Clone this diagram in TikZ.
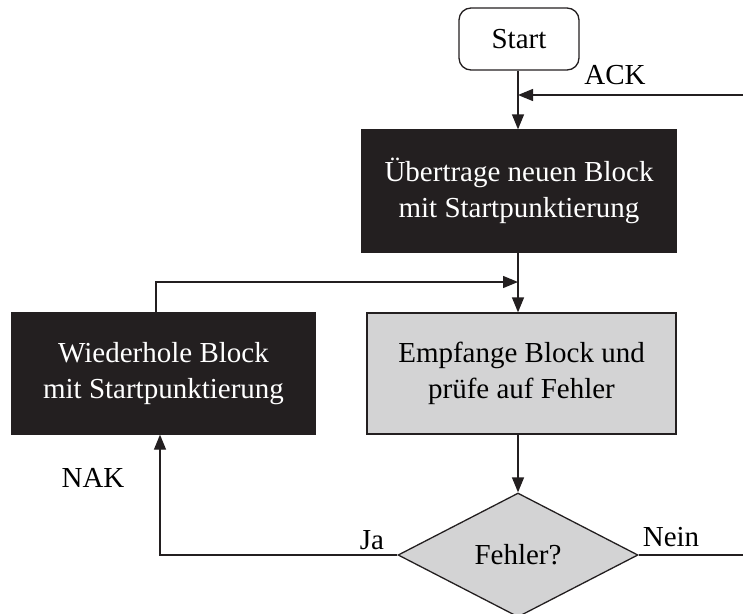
\documentclass[tikz,border=0pt]{standalone}
\usepackage{fontspec}
\setmainfont{Liberation Serif}
\usetikzlibrary{arrows.meta,shapes.geometric}
\definecolor{blockdark}{HTML}{231F20}
\definecolor{blockgray}{HTML}{D3D3D4}
\definecolor{linecol}{HTML}{231F20}
\begin{document}
\begin{tikzpicture}[x=1pt,y=-1pt,
  font=\fontsize{29}{36}\selectfont,
  line width=1.3pt,
  >={Triangle[length=15pt,width=12pt]},
  conn/.style={draw=linecol},
  darkbox/.style={rectangle, fill=blockdark, draw=blockdark, text=white, align=center, inner sep=0pt},
  graybox/.style={rectangle, fill=blockgray, draw=linecol, text=black, align=center, inner sep=0pt},
  lbl/.style={text=black, inner sep=0pt}]
\useasboundingbox (0,0) rectangle (743,613);

% nodes
\node[draw=linecol, rounded corners=12pt, minimum width=120pt, minimum height=62pt, inner sep=0pt]
  (start) at (519,39) {Start};
\node[darkbox, minimum width=314pt, minimum height=122pt] (ueb) at (519,191)
  {Übertrage neuen Block\\mit Startpunktierung};
\node[graybox, minimum width=309pt, minimum height=121pt] (empf) at (521.5,373.5)
  {Empfange Block und\\prüfe auf Fehler};
\node[darkbox, minimum width=303pt, minimum height=121pt] (wied) at (163.5,373.5)
  {Wiederhole Block\\mit Startpunktierung};
\node[diamond, fill=blockgray, draw=linecol, minimum width=240pt, minimum height=124pt,
  aspect=1.9, inner sep=0pt] (dec) at (518,555) {Fehler?};

% helper coordinates
\coordinate (ackE) at (743,95);
\coordinate (join) at (518,282);
\coordinate (neinE) at (743,555);
\coordinate (nakC) at (160,555);

% connectors
\draw[conn,->] (start.south -| join) -- (ueb.north -| join);
\draw[conn,->] (ackE) -- (ackE -| join);
\draw[conn,->] (ueb.south -| join) -- (empf.north -| join);
\draw[conn,->] ([xshift=-7.5pt]wied.north) |- (join);
\draw[conn,->] (empf.south -| dec.north) -- (dec.north);
\draw[conn,->] (dec.west) -- (nakC) -- (wied.south -| nakC);
\draw[conn] (dec.east) -- (neinE);

% labels
\node[lbl] (ack) at (615,75) {ACK};
\node[lbl] (ja) at (372,540) {Ja};
\node[lbl] (nein) at (671,537) {Nein};
\node[lbl] (nak) at (93,478) {NAK};
\end{tikzpicture}
\end{document}
